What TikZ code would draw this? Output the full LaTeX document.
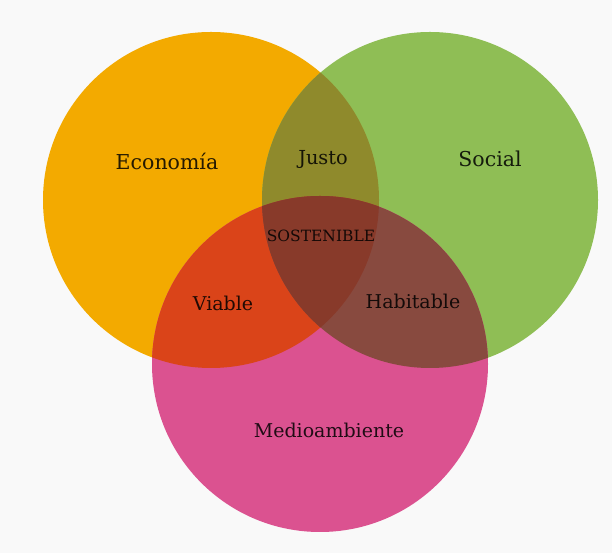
\documentclass[tikz,border=0pt]{standalone}
\usepackage{fontspec}
\setmainfont{DejaVu Serif}
\definecolor{bgc}{HTML}{F9F9F9}
\definecolor{eco}{HTML}{F3AA00}
\definecolor{soc}{HTML}{8FBE55}
\definecolor{med}{HTML}{DB5290}
\definecolor{justoc}{HTML}{8F8A2C}
\definecolor{viablec}{HTML}{DA4419}
\definecolor{habc}{HTML}{884A3F}
\definecolor{sostc}{HTML}{883A2A}
\tikzset{lab/.style={text=black,text opacity=0.85,font=\fontsize{19}{22}\selectfont,inner sep=0pt}}
\begin{document}
\begin{tikzpicture}[x=1pt,y=1pt]
\useasboundingbox (0,0) rectangle (612,553);
\fill[bgc] (0,0) rectangle (612,553);
\fill[eco] (211,353) circle (168);
\fill[soc] (430,353) circle (168);
\fill[med] (320,189) circle (168);
\begin{scope}
  \clip (211,353) circle (168);
  \fill[justoc] (430,353) circle (168);
  \fill[viablec] (320,189) circle (168);
\end{scope}
\begin{scope}
  \clip (430,353) circle (168);
  \fill[habc] (320,189) circle (168);
\end{scope}
\begin{scope}
  \clip (211,353) circle (168);
  \clip (430,353) circle (168);
  \fill[sostc] (320,189) circle (168);
\end{scope}
\node[lab,font=\fontsize{20.5}{24}\selectfont] (eco) at (167,392) {Economía};
\node[lab,font=\fontsize{19.3}{23}\selectfont] (justo) at (323,394) {Justo};
\node[lab,font=\fontsize{20.5}{24}\selectfont] (soc) at (490,394) {Social};
\node[lab,font=\fontsize{15.5}{18}\selectfont] (sost) at (321,317) {SOSTENIBLE};
\node[lab] (via) at (223,250) {Viable};
\node[lab] (hab) at (413,252) {Habitable};
\node[lab] (med) at (329,123) {Medioambiente};
\end{tikzpicture}
\end{document}
